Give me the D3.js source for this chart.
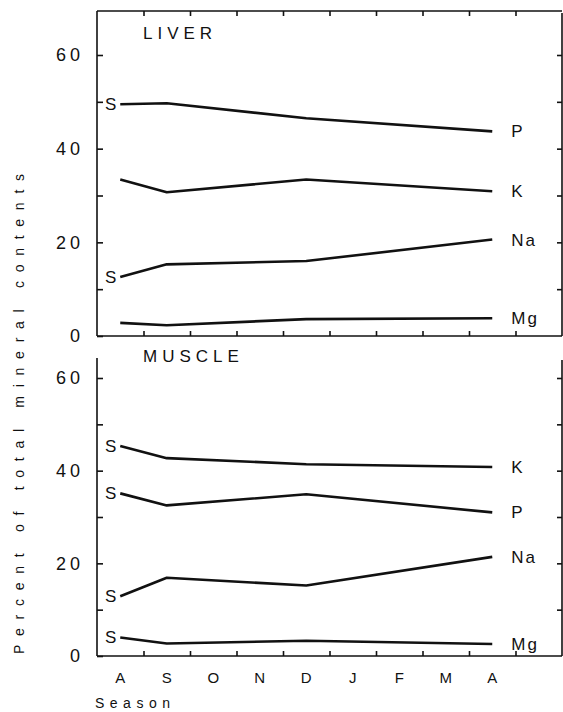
<!DOCTYPE html>
<html>
<head>
<meta charset="utf-8">
<script src="https://cdn.jsdelivr.net/npm/d3@7"></script>
<style>
  body { margin: 0; background: #fff; }
  svg { display: block; font-family: "Liberation Sans", Arial, sans-serif; }
</style>
</head>
<body>
<svg id="chart" width="563" height="712"></svg>
<script>
// months on the x axis (last band is empty)
var months = ["A", "S", "O", "N", "D", "J", "F", "M", "A", ""]
// index of the month where each sample was taken
var sampleMonth = [0, 1, 4, 8]

var elements = ["P", "K", "Na", "Mg"]

// liver, percent of total mineral contents
var liverP  = [49.5, 49.7, 46.5, 43.7]
var liverK  = [33.4, 30.7, 33.4, 30.9]
var liverNa = [12.6, 15.3, 16.0, 20.6]
var liverMg = [2.8, 2.3, 3.6, 3.8]
var liverS  = [true, false, true, false]

// muscle
var muscleK  = [45.3, 42.7, 41.4, 40.8]
var muscleP  = [35.1, 32.5, 34.9, 31.0]
var muscleNa = [12.9, 16.9, 15.2, 21.4]
var muscleMg = [4.0, 2.7, 3.3, 2.6]
var muscleS  = [true, true, true, true]

var yTicks = [0, 10, 20, 30, 40, 50, 60]

var dimensions = { left: 97, right: 562 }

var panels = [
  { title: "LIVER", top: 11, zero: 336, sixty: 55, topBorder: true,
    series: [{name: "P", v: liverP}, {name: "K", v: liverK}, {name: "Na", v: liverNa}, {name: "Mg", v: liverMg}],
    s: liverS },
  { title: "MUSCLE", top: 358, zero: 656, sixty: 378, topBorder: false,
    series: [{name: "K", v: muscleK}, {name: "P", v: muscleP}, {name: "Na", v: muscleNa}, {name: "Mg", v: muscleMg}],
    s: muscleS }
]

var svg = d3.select("#chart")

var xBand = d3.scaleBand()
  .domain(d3.range(months.length))
  .range([dimensions.left, dimensions.right])
  .padding(0)

var xEdge = d3.scaleLinear()
  .domain([0, months.length])
  .range([dimensions.left, dimensions.right])

var line = d3.line()
  .x((d, i) => xBand(sampleMonth[i]) + xBand.bandwidth() / 2)

panels.forEach(function(p, pi) {
  var yScale = d3.scaleLinear().domain([0, 60]).range([p.zero, p.sixty])
  var g = svg.append("g")

  // frame
  var frame = g.append("g").attr("stroke", "#111").attr("stroke-width", 1.6).attr("fill", "none")
  frame.append("line").attr("x1", dimensions.left).attr("x2", dimensions.left).attr("y1", p.top).attr("y2", p.zero)
  frame.append("line").attr("x1", dimensions.right).attr("x2", dimensions.right).attr("y1", p.top + 2).attr("y2", p.zero)
  frame.append("line").attr("x1", dimensions.left).attr("x2", dimensions.right).attr("y1", p.zero).attr("y2", p.zero)
  if (p.topBorder) {
    frame.append("line").attr("x1", dimensions.left).attr("x2", dimensions.right).attr("y1", p.top).attr("y2", p.top)
  }

  // left axis, ticks inward
  var yAxisL = g.append("g")
    .attr("transform", `translate(${dimensions.left},0)`)
    .call(d3.axisLeft(yScale).tickValues(yTicks).tickSize(-6).tickSizeOuter(0).tickPadding(13)
      .tickFormat(d => d % 20 === 0 ? d : ""))
  yAxisL.select(".domain").remove()
  yAxisL.selectAll("line").attr("stroke", "#111").attr("stroke-width", 1.6)
  yAxisL.selectAll("text").attr("font-size", 18).attr("fill", "#111").attr("letter-spacing", 4)
    .attr("font-family", "Liberation Sans, Arial, sans-serif")

  // right axis
  var yAxisR = g.append("g")
    .attr("transform", `translate(${dimensions.right},0)`)
    .call(d3.axisRight(yScale).tickValues(yTicks.slice(1)).tickSize(-5).tickSizeOuter(0).tickFormat(""))
  yAxisR.select(".domain").remove()
  yAxisR.selectAll("line").attr("stroke", "#111").attr("stroke-width", 1.6)

  // month boundary ticks
  var bottomTicks = g.append("g")
    .attr("transform", `translate(0,${p.zero})`)
    .call(d3.axisBottom(xEdge).tickValues(d3.range(1, months.length)).tickSize(-5).tickSizeOuter(0).tickFormat(""))
  bottomTicks.select(".domain").remove()
  bottomTicks.selectAll("line").attr("stroke", "#111").attr("stroke-width", 1.6)

  if (p.topBorder) {
    var topTicks = g.append("g")
      .attr("transform", `translate(0,${p.top})`)
      .call(d3.axisTop(xEdge).tickValues(d3.range(1, months.length)).tickSize(-5).tickSizeOuter(0).tickFormat(""))
    topTicks.select(".domain").remove()
    topTicks.selectAll("line").attr("stroke", "#111").attr("stroke-width", 1.6)
  }

  // title
  g.append("text")
    .attr("x", 143).attr("y", yScale(60) - 16)
    .attr("font-size", 17).attr("letter-spacing", 5).attr("fill", "#111")
    .text(p.title)

  // lines
  g.append("g").selectAll("path")
    .data(p.series)
    .enter()
    .append("path")
    .attr("d", d => line.y(v => yScale(v))(d.v))
    .attr("fill", "none")
    .attr("stroke", "#111")
    .attr("stroke-width", 2.6)
    .attr("stroke-linejoin", "round")

  // end labels
  g.append("g").selectAll("text")
    .data(p.series)
    .enter()
    .append("text")
    .attr("x", xBand(sampleMonth[3]) + xBand.bandwidth() / 2 + 19)
    .attr("y", d => yScale(d.v[3]) + 6)
    .attr("font-size", 17)
    .attr("letter-spacing", 2)
    .attr("fill", "#111")
    .text(d => d.name)

  // "S" start labels
  g.append("g").selectAll("text")
    .data(p.series.filter((d, i) => p.s[i]))
    .enter()
    .append("text")
    .attr("x", xBand(sampleMonth[0]) + xBand.bandwidth() / 2 - 4)
    .attr("y", d => yScale(d.v[0]) + 6)
    .attr("text-anchor", "end")
    .attr("font-size", 17)
    .attr("fill", "#111")
    .text("S")

  // month labels under the bottom panel
  if (pi === panels.length - 1) {
    var xAxis = g.append("g")
      .attr("transform", `translate(0,${p.zero})`)
      .call(d3.axisBottom(xBand).tickSize(0).tickPadding(16).tickFormat(i => months[i]))
    xAxis.select(".domain").remove()
    xAxis.selectAll("text").attr("font-size", 15).attr("fill", "#111")
      .attr("font-family", "Liberation Sans, Arial, sans-serif")

    g.append("text")
      .attr("x", 95).attr("y", p.zero + 52)
      .attr("font-size", 14).attr("letter-spacing", 5.5).attr("fill", "#111")
      .text("Season")
  }
})

// y axis title
svg.append("text")
  .attr("transform", "translate(24,414) rotate(-90)")
  .attr("text-anchor", "middle")
  .attr("font-size", 14)
  .attr("fill", "#111")
  .attr("textLength", 480)
  .attr("lengthAdjust", "spacing")
  .text("Percent of total mineral contents")
</script>
</body>
</html>
